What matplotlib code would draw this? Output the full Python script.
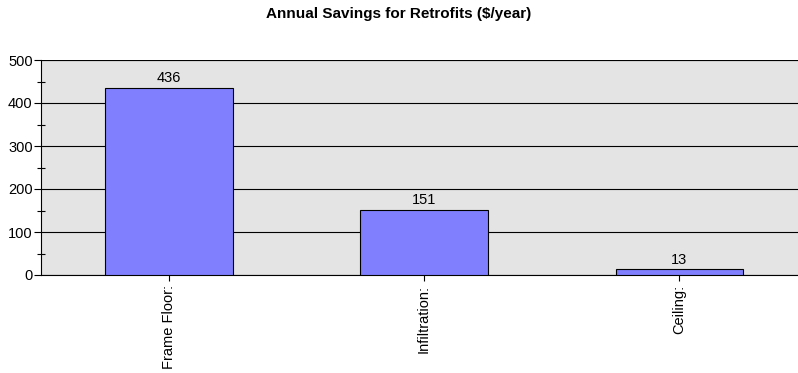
import matplotlib
matplotlib.use("Agg")
from matplotlib import pyplot as plt
from matplotlib.ticker import MultipleLocator

# Dados do gráfico
categories = ["Frame Floor:", "Infiltration:", "Ceiling:"]
savings = [436, 151, 13]

plt.rcParams["font.family"] = ["Liberation Sans", "DejaVu Sans"]

W, H = 798, 373
fig = plt.figure(figsize=(W / 100, H / 100), dpi=100)
fig.patch.set_facecolor("white")

# Área do gráfico (em pixels): esquerda 41, topo 60, base 275, direita ~807 (cortada)
left, top, bottom, right = 41, 60, 275, 807
ax = fig.add_axes([left / W, 1 - bottom / H, (right - left) / W, (bottom - top) / H])
ax.set_facecolor("#e4e4e4")

x = range(len(categories))
ax.bar(x, savings, width=0.5, color="#8080ff", edgecolor="black", linewidth=0.8, zorder=3)
for xi, v in zip(x, savings):
    ax.text(xi, v + 6, str(v), ha="center", va="bottom", fontsize=10.5, zorder=4)

ax.set_xlim(-0.5, 2.5)
ax.set_ylim(0, 500)
ax.yaxis.set_major_locator(MultipleLocator(100))
ax.yaxis.set_minor_locator(MultipleLocator(50))
ax.grid(axis="y", which="major", color="black", linewidth=0.8, zorder=1)
ax.axhline(500, color="#555555", linewidth=0.8, zorder=1)

ax.set_xticks(list(x))
ax.set_xticklabels(categories, rotation=90, fontsize=10.5)
ax.tick_params(axis="x", length=4, width=0.8, direction="out", pad=3)
ax.tick_params(axis="y", which="major", length=5, width=0.8, direction="out", labelsize=10.5, pad=1)
ax.tick_params(axis="y", which="minor", length=6, width=0.8, direction="inout")

for side in ["top", "right"]:
    ax.spines[side].set_visible(False)
ax.spines["left"].set_linewidth(0.8)
ax.spines["bottom"].set_linewidth(0.8)

fig.text(399 / W, 1 - 14 / H, "Annual Savings for Retrofits ($/year)",
         ha="center", va="center", fontsize=11, fontweight="bold")

fig.savefig("out.png", dpi=100)
